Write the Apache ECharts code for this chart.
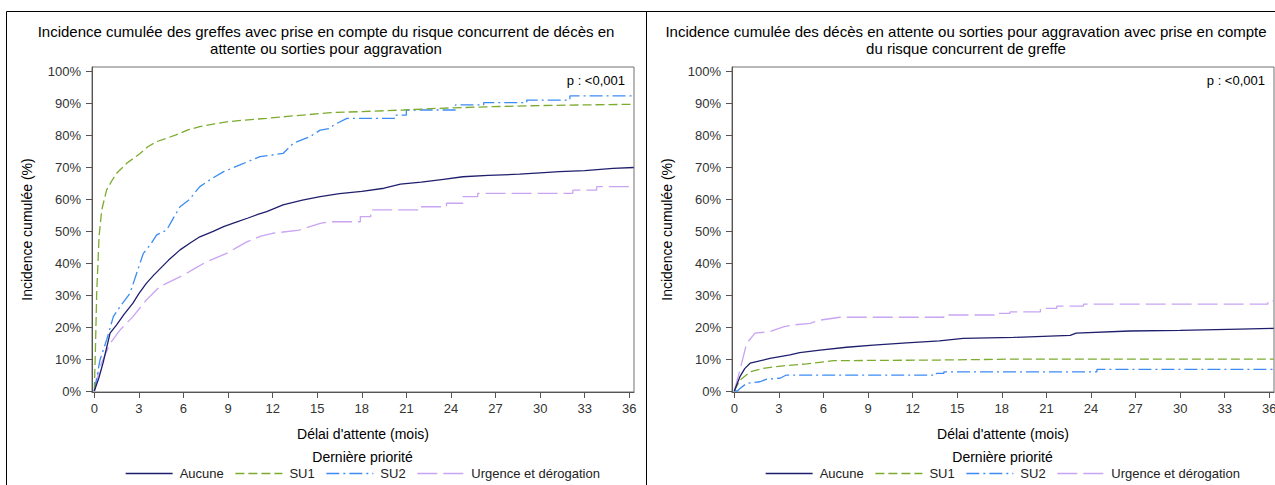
<!DOCTYPE html>
<html>
<head>
<meta charset="utf-8">
<script src="https://cdn.jsdelivr.net/npm/echarts@6/dist/echarts.min.js"></script>
<style>
  html, body { margin: 0; padding: 0; background: #fff; }
  #chart { width: 1275px; height: 485px; }
</style>
</head>
<body>
<div id="chart"></div>
<script>
// Cumulative incidence (%) by month of waiting, per last priority level.
const seriesNames = ['Aucune', 'SU1', 'SU2', 'Urgence et dérogation'];
const xTicks = [0, 3, 6, 9, 12, 15, 18, 21, 24, 27, 30, 33, 36];
const yTicks = [0, 10, 20, 30, 40, 50, 60, 70, 80, 90, 100];

// Panel 1: transplants (competing risk: death / withdrawal)
const greffeAucune = [[0,0],[0.3,4],[0.6,9],[1.06,18.1],[1.5,20.7],[2.0,24],[2.6,27.5],[3.0,30.5],[3.5,33.7],[4.0,36.3],[5.0,41],[5.77,44.2],[6.5,46.5],[7.1,48.3],[8.0,50],[8.7,51.5],[9.5,52.8],[10.3,54.1],[11.0,55.3],[11.6,56.2],[12.7,58.3],[14.0,59.8],[15.2,60.9],[16.5,61.8],[18,62.5],[19.5,63.5],[20.6,64.8],[22,65.4],[23.5,66.3],[24.8,67.1],[26.5,67.5],[28.6,67.9],[30,68.3],[31.3,68.7],[33,69],[34.9,69.7],[36.3,70.0]];
const greffeSU1 = [[0,0],[0.08,14],[0.16,30.6],[0.32,48.3],[0.5,56.7],[0.83,63],[1.2,66],[1.5,68.2],[2.18,71.3],[3.08,74.4],[3.6,76.5],[4.2,78.1],[5.5,80.2],[6.3,81.8],[7.1,82.8],[8.0,83.6],[8.9,84.3],[10,84.8],[11.6,85.4],[13,86],[14.5,86.6],[15.9,87.2],[18,87.5],[20.8,88.0],[23,88.5],[26.4,89.0],[30,89.4],[33,89.6],[36.3,89.8]];
const greffeSU2 = [[0,0],[0.38,9.7],[0.83,16],[1.28,23.3],[1.73,26.4],[2.4,30.6],[2.85,36.9],[3.3,43.1],[3.8,46],[4.2,48.9],[4.87,50.4],[5.3,54],[5.77,57.7],[6.4,60],[7.1,64],[7.9,66.5],[8.7,68.7],[9.8,70.8],[11.15,73.4],[12.7,74.4],[13.4,77.6],[14.5,79.6],[15.2,81.7],[15.9,82.3],[16.1,83.3],[17.0,85.4],[20.3,85.4],[20.3,86.4],[21.0,86.4],[21.0,88.0],[24.3,88.0],[24.3,89.6],[26.2,89.6],[26.2,90.3],[29.1,90.3],[29.1,91.1],[32.0,91.1],[32.0,92.4],[36.3,92.4]];
const greffeUrgence = [[0,0],[0.38,7.6],[1.06,14.9],[1.73,19.1],[2.6,23.3],[3.5,28.5],[4.4,32.7],[5.2,34.5],[6.0,36.3],[6.8,38.5],[7.56,40.5],[8.9,43.1],[9.6,45],[10.3,46.8],[11.2,48.5],[12,49.4],[13.8,50.4],[14.5,51.5],[15.2,52.5],[15.9,53.0],[17.9,53.0],[17.9,54.6],[18.6,54.6],[18.6,56.7],[21.9,56.7],[21.9,57.7],[23.7,57.7],[23.7,58.8],[24.8,58.8],[24.8,60.9],[25.8,60.9],[25.8,61.9],[32.2,61.9],[32.2,62.9],[33.8,62.9],[33.8,64.0],[36.3,64.0]];

// Panel 2: deaths / withdrawals (competing risk: transplant)
const decesAucune = [[0,0],[0.38,4.5],[0.7,7],[1.06,8.7],[1.5,9.2],[2.4,10.2],[3.75,11.3],[4.4,12.0],[5.77,12.8],[7.56,13.7],[9.35,14.4],[11.6,15.1],[13.8,15.7],[15.4,16.5],[18.8,16.8],[22.6,17.4],[23.0,18.1],[26.6,18.8],[30,19.0],[34.0,19.4],[36.3,19.6]];
const decesSU1 = [[0,0],[0.38,3.4],[1.06,6.0],[1.95,7.1],[3.3,7.9],[4.87,8.5],[6.66,9.5],[13.8,9.7],[19.0,10.0],[36.3,10.0]];
const decesSU2 = [[0,0],[0.2,0],[0.38,0.8],[0.83,2.4],[1.73,2.9],[2.18,3.7],[3.08,4.0],[3.5,5.0],[13.6,5.0],[13.6,5.5],[14.1,5.5],[14.1,6.0],[24.4,6.0],[24.4,6.8],[36.3,6.8]];
const decesUrgence = [[0,0],[0.38,6.6],[0.83,14.9],[1.39,18.1],[2.4,18.6],[3.3,20.1],[4.0,20.7],[5.1,21.2],[5.77,22.2],[7.1,23.1],[14.1,23.1],[14.1,23.8],[17.7,23.8],[17.7,24.3],[18.55,24.3],[18.55,24.8],[20.6,24.8],[20.6,25.9],[21.7,25.9],[21.7,26.6],[23.5,26.6],[23.5,27.2],[35.9,27.2],[35.9,28.2],[36.3,28.2]];

const panelTitles = [
  'Incidence cumulée des greffes avec prise en compte du risque concurrent de décès en\nattente ou sorties pour aggravation',
  'Incidence cumulée des décès en attente ou sorties pour aggravation avec prise en compte\ndu risque concurrent de greffe'
];
const pValueText = 'p : <0,001';
const yAxisTitle = 'Incidence cumulée (%)';
const xAxisTitle = "Délai d'attente (mois)";
const legendTitle = 'Dernière priorité';

const FONT = "'Liberation Sans', Arial, Helvetica, sans-serif";
const colors = ['#1f1f6e', '#7cab2e', '#3c8cf5', '#c9a4f3'];
const dashes = ['solid', [9, 4], [13, 4, 2, 4], [20, 6]];

const panels = [
  { data: [greffeAucune, greffeSU1, greffeSU2, greffeUrgence], left: 92, center: 326 },
  { data: [decesAucune, decesSU1, decesSU2, decesUrgence], left: 732, center: 966 }
];
const GRID_TOP = 67, GRID_W = 542, GRID_H = 325;

const grids = [], xAxes = [], yAxes = [], series = [], legends = [], graphics = [];

panels.forEach((p, i) => {
  grids.push({
    left: p.left, top: GRID_TOP, width: GRID_W, height: GRID_H,
    show: true, borderColor: '#707070', borderWidth: 1, backgroundColor: '#fff',
    containLabel: false, outerBoundsMode: 'none'
  });
  xAxes.push({
    type: 'value', gridIndex: i, min: -0.155, max: 36.316,
    name: xAxisTitle, nameLocation: 'middle', nameGap: 35,
    nameTextStyle: { fontFamily: FONT, fontSize: 14, color: '#000' },
    axisLine: { show: true, onZero: false, lineStyle: { color: '#555', width: 1 } },
    axisTick: { show: true, length: 6, customValues: xTicks, lineStyle: { color: '#555' } },
    axisLabel: { customValues: xTicks, margin: 10, fontFamily: FONT, fontSize: 13, color: '#333' },
    splitLine: { show: false }
  });
  yAxes.push({
    type: 'value', gridIndex: i, min: -0.31, max: 101.47,
    name: yAxisTitle, nameLocation: 'middle', nameGap: 58, nameRotate: 90,
    nameTextStyle: { fontFamily: FONT, fontSize: 14, color: '#000' },
    axisLine: { show: true, onZero: false, lineStyle: { color: '#555', width: 1 } },
    axisTick: { show: true, length: 6, customValues: yTicks, lineStyle: { color: '#555' } },
    axisLabel: { customValues: yTicks, margin: 11, fontFamily: FONT, fontSize: 13, color: '#333',
      formatter: v => v + '%' },
    splitLine: { show: false }
  });
  p.data.forEach((d, k) => {
    series.push({
      type: 'line', name: seriesNames[k], xAxisIndex: i, yAxisIndex: i,
      data: d, symbol: 'none', showSymbol: false, silent: true, animation: false,
      lineStyle: { color: colors[k], width: 1.3, type: dashes[k] },
      itemStyle: { color: colors[k] }, z: 10 - k
    });
  });
  legends.push({
    data: seriesNames, left: p.left + 28, top: 462, orient: 'horizontal',
    itemWidth: 47, itemHeight: 12, itemGap: 11,
    itemStyle: { opacity: 0, borderWidth: 0 },
    lineStyle: { width: 1.3 },
    textStyle: { fontFamily: FONT, fontSize: 13, color: '#222', padding: [0, 0, 0, 2] },
    selectedMode: false
  });
  const plotCenter = p.left + GRID_W / 2 - 0.5;
  // panel frame
  graphics.push({
    type: 'rect', shape: { x: p.center - 320 + 0.5, y: 11.5, width: 640, height: 500 },
    style: { fill: null, stroke: '#000', lineWidth: 1 }, silent: true, z: -1
  });
  graphics.push({
    type: 'text', x: p.center, y: 40,
    style: { text: panelTitles[i], align: 'center', verticalAlign: 'middle',
      fontFamily: FONT, fontSize: 15, lineHeight: 17, fill: '#000' }, silent: true
  });
  graphics.push({
    type: 'text', x: p.left + 533, y: 80,
    style: { text: pValueText, align: 'right', verticalAlign: 'middle',
      fontFamily: FONT, fontSize: 13, fill: '#000' }, silent: true, z: 20
  });
  graphics.push({
    type: 'text', x: plotCenter, y: 457,
    style: { text: legendTitle, align: 'center', verticalAlign: 'middle',
      fontFamily: FONT, fontSize: 14, fill: '#000' }, silent: true
  });
});

const chart = echarts.init(document.getElementById('chart'), null, { renderer: 'svg' });
chart.setOption({
  animation: false,
  backgroundColor: '#fff',
  grid: grids,
  xAxis: xAxes,
  yAxis: yAxes,
  legend: legends,
  series: series,
  graphic: graphics
});
</script>
</body>
</html>
